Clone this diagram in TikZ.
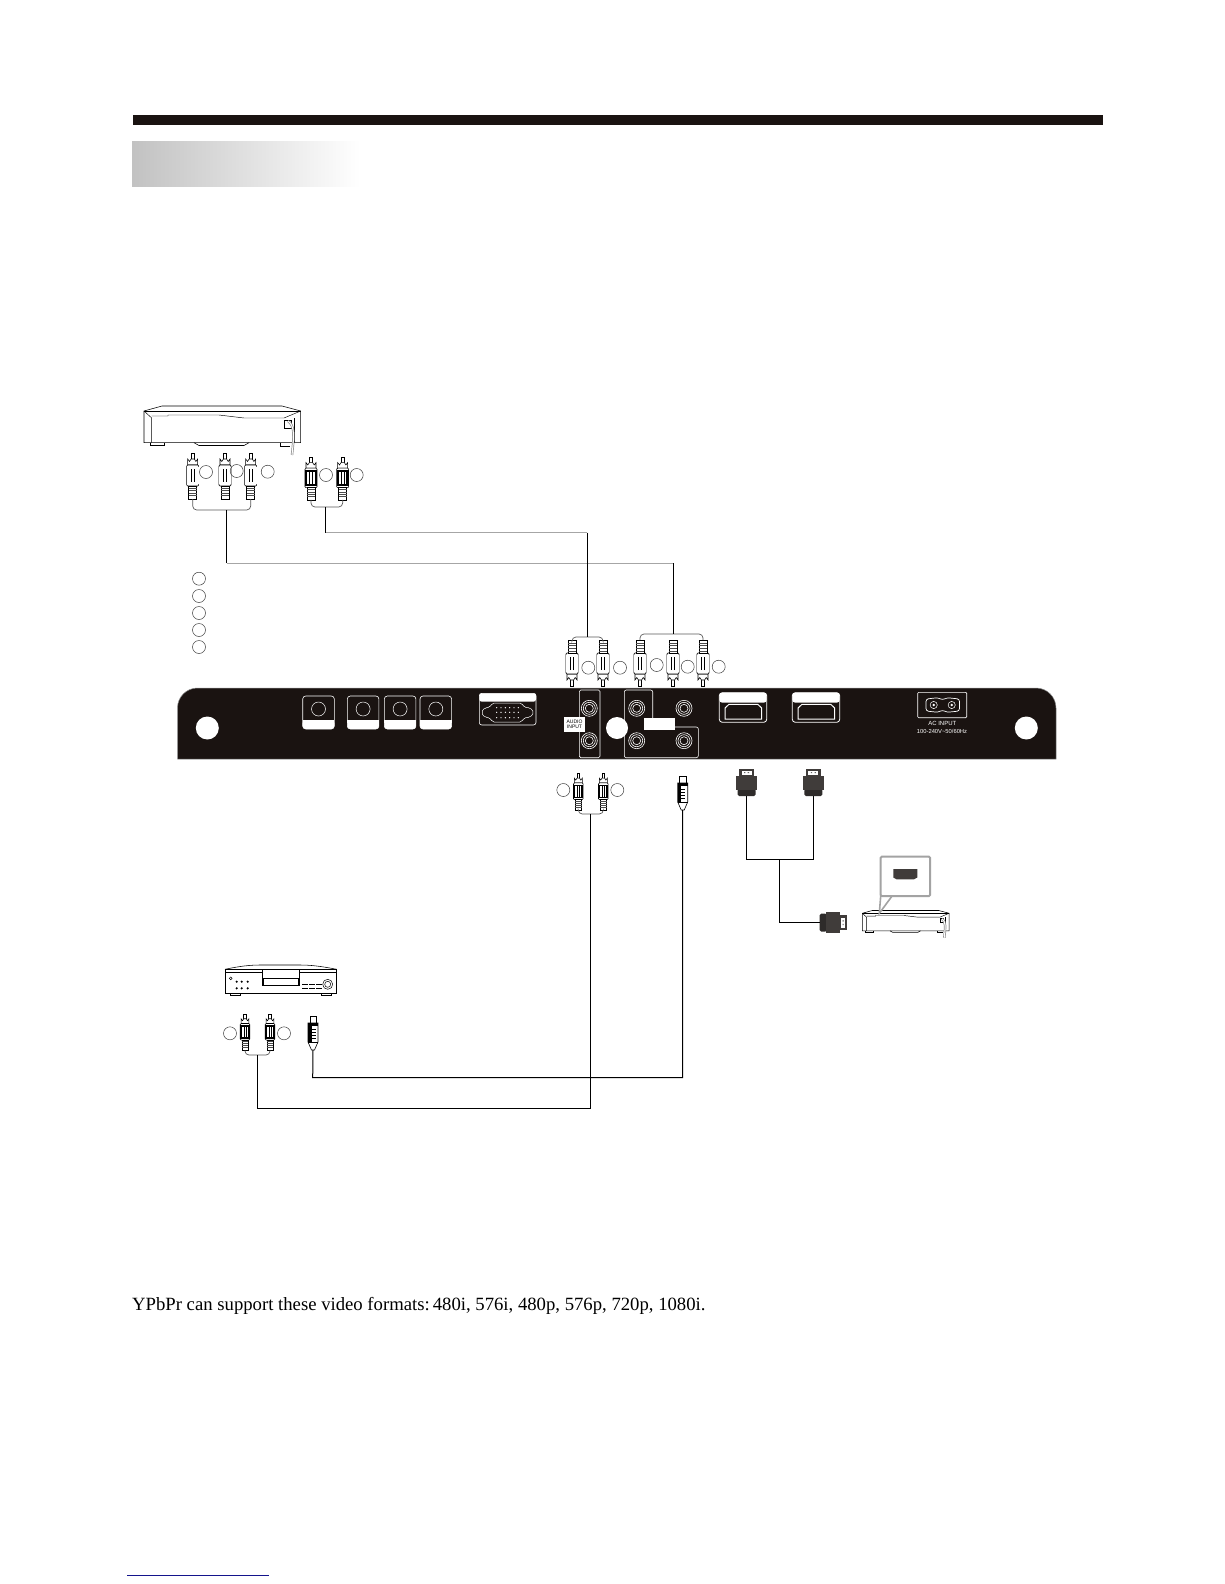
\documentclass[tikz,border=0pt]{standalone}
\usepackage{fontspec}
\setmainfont{Liberation Serif}
\setsansfont{Liberation Sans}
\definecolor{panelblack}{HTML}{1A1311}
\definecolor{plugdark}{HTML}{403C3A}
\definecolor{plugdarker}{HTML}{2E2B2A}
\definecolor{calloutgrey}{HTML}{A3A3A3}
\definecolor{footblue}{HTML}{14148C}
\tikzset{
  wire/.style={line width=1pt,black},
  faintwire/.style={line width=.8pt,black!35},
  plugline/.style={line width=.55pt,black},
  whiteline/.style={line width=.6pt,white},
  tag/.style={circle,draw=black!75,line width=.5pt,minimum size=13pt,inner sep=0pt},
  rca/.pic={
    \draw[plugline,fill=white] (-1.6,0) rectangle (1.6,8);
    \draw[plugline,fill=white] (-5,12) -- (-5,6) -- (-3.2,8.5) -- (-1.6,6) -- (1.6,6) -- (3.2,8.5) -- (5,6) -- (5,12) -- cycle;
    \draw[plugline,fill=white,rounded corners=1pt] (-6,12) rectangle (6,33);
    \fill[#1] (-6,14) rectangle (6,31);
    \fill[white] (-3.6,16) rectangle (3.6,29);
    \draw[line width=.9pt] (-1.3,16) -- (-1.3,29) (1.3,16) -- (1.3,29);
    \draw[plugline,fill=white] (-4,33) -- (-4,46) -- (4,46) -- (4,33) -- cycle;
    \foreach \ry in {35,37.6,40.2,42.8}{\draw[line width=.9pt,black!70] (-4,\ry) -- (4,\ry);}
    \coordinate (-end) at (0,46);
  },
  svideo/.pic={
    \draw[plugline,fill=white] (-3.2,0) rectangle (3.2,7);
    \draw[line width=.6pt,fill=white] (-5,7) -- (-5,26) -- (-1.5,34) -- (1.5,34) -- (5,26) -- (5,7) -- cycle;
    \fill[black] (-5,7) rectangle (-1.5,26);
    \fill[black] (-5,7) rectangle (5,10);
    \foreach \ry in {13,16,19,22}{\draw[line width=.8pt] (-1.5,\ry) -- (2.5,\ry);}
    \draw[line width=.8pt] (-5,26) -- (5,26);
    \coordinate (-end) at (0,34);
  },
  hdmiplug/.pic={
    \fill[plugdark] (-7.5,0) rectangle (7.5,7);
    \fill[white] (-5,2) rectangle (5,5.5);
    \fill[black!60] (-2.5,3) rectangle (-1.2,4.2) (1.2,3) rectangle (2.5,4.2);
    \fill[plugdarker,rounded corners=1.5pt] (-9,20) rectangle (9,27);
    \fill[plugdark] (-10.5,6.7) rectangle (10.5,21);
    \coordinate (-end) at (0,27);
  },
  jack/.pic={
    \fill[panelblack] (0,0) circle (8.5);
    \draw[whiteline] (0,0) circle (8) (0,0) circle (6) (0,0) circle (4);
  },
  smalljack/.pic={
    \draw[whiteline,rounded corners=3pt] (0,0) rectangle (31.6,33);
    \fill[white,rounded corners=3pt] (0,24) rectangle (31.6,33);
    \fill[white] (0,24) rectangle (31.6,27);
    \draw[line width=.5pt,white] (15.8,13) circle (7);
  },
  hdmijack/.pic={
    \draw[whiteline,line width=.8pt,rounded corners=3pt] (0,0) rectangle (47.4,29.6);
    \fill[white,rounded corners=3pt] (0,0) rectangle (47.4,10);
    \draw[line width=1pt,white] (5.7,26.3) -- (5.7,15.3) -- (9.7,11.6) -- (38.4,11.6) -- (42.4,15.3) -- (42.4,26.3) -- cycle;
  },
  player/.pic={
    \draw[line width=.55pt,black,fill=white] (0,5) -- (18,0) -- (138,0) -- (156.7,5) -- (156.7,36.7) -- (0,36.7) -- cycle;
    \draw[line width=.45pt] (0,5) -- (156.7,5);
    \draw[line width=.45pt] (0,5) -- (7.7,12) -- (7.7,36.7);
    \draw[line width=.45pt] (7.7,10) -- (24,10) -- (24,9) -- (75,9) -- (100,12) -- (140,12) -- (156.7,5);
    \draw[line width=.45pt] (150,12) -- (150,36.7);
    \draw[line width=.55pt] (6,36.7) -- (6,39) -- (20,39) -- (20,36.7);
    \draw[line width=.55pt] (50,36.7) -- (55,39.5) -- (100,39.5) -- (105,36.7);
    \draw[line width=.55pt] (136,36.7) -- (136,40) -- (146,40);
    \draw[line width=.7pt,fill=white] (140,14) rectangle (147,22);
    \draw[line width=2.4pt,black!45] (144,15) .. controls (151,20) and (150,30) .. (148,49);
    \draw[line width=1pt,white] (144,15) .. controls (151,20) and (150,30) .. (148,49);
  },
}
\begin{document}
\begin{tikzpicture}[x=1pt,y=-1pt]
\useasboundingbox (0,0) rectangle (1224,1584);
\fill[white] (0,0) rectangle (1224,1584);

% header
\fill[panelblack] (133,115) rectangle (1103,125);
\shade[left color=black!24,right color=white,shading angle=90] (132,141) rectangle (360,186);

% source player, top
\pic (topplayer) at (144,406) {player};

% rear panel
\fill[panelblack,draw=black!45,line width=.5pt] (177.5,759) {[rounded corners=20pt] -- (177.5,688) -- (1056,688)} -- (1056,759) -- cycle;
\fill[white] (207.3,728) circle (11.5) (1026.3,728) circle (11.5) (617,728) circle (11);
\pic at (302.7,696) {smalljack};
\pic at (347.3,696) {smalljack};
\pic at (384.3,696) {smalljack};
\pic at (420,696) {smalljack};
% VGA
\draw[whiteline,rounded corners=2.5pt] (479.3,693.3) rectangle (536,725);
\fill[white,rounded corners=2.5pt] (479.3,693.3) rectangle (536,701.7);
\draw[line width=.5pt,white,rounded corners=2pt] (481,712.5) -- (485,707.5) -- (490,707.5) -- (492,703) -- (522,703) -- (524,707.5) -- (530,707.5) -- (534,712.5) -- (530,717.5) -- (524,717.5) -- (522,722) -- (492,722) -- (490,717.5) -- (485,717.5) -- cycle;
\foreach \ry in {707.7,712.3,717.7}{\foreach \rx in {496.7,501,505.4,509.7,514,518.3}{\fill[white] (\rx,\ry) circle (.7);}}
% audio input
\draw[whiteline,rounded corners=1.5pt] (579.3,690) rectangle (600,757.7);
\pic at (589.3,708.3) {jack};
\pic at (589.3,740.7) {jack};
\node[fill=white,text=black,font=\sffamily\fontsize{5}{5.2}\selectfont,align=center,inner sep=0pt,minimum width=21pt,minimum height=14.4pt] (audiolabel) at (574.5,724.5) {AUDIO\\INPUT};
% component / AV group
\draw[whiteline,rounded corners=2pt] (652.7,719) -- (652.7,690) -- (624.3,690) -- (624.3,757.7) -- (698.3,757.7) -- (698.3,727) -- (675,727);
\pic at (636.7,708.3) {jack};
\pic at (684,708.3) {jack};
\pic at (636.7,740.7) {jack};
\pic at (684,740.7) {jack};
\fill[white] (644,718.3) rectangle (675,730);
% HDMI
\pic at (719.3,692.7) {hdmijack};
\pic at (792.3,692.7) {hdmijack};
% AC
\draw[whiteline,rounded corners=1pt] (917.7,692.3) rectangle (966.7,717.7);
\draw[line width=.7pt,white,rounded corners=2.5pt] (926,705) -- (926,699) -- (938,697.7) -- (942.5,700) -- (947,697.7) -- (959.5,699) -- (959.5,711) -- (947,712.3) -- (942.5,710) -- (938,712.3) -- (926,711) -- cycle;
\draw[line width=.5pt,white] (933.7,705) circle (3.6) (951.7,705) circle (3.6);
\fill[white] (933.7,705) circle (1.3) (951.7,705) circle (1.3);
\node[text=white,font=\sffamily\fontsize{6}{6.5}\selectfont,inner sep=0pt] (acone) at (942.3,723.7) {AC INPUT};
\node[text=white,font=\sffamily\fontsize{5.8}{6.5}\selectfont,inner sep=0pt] (actwo) at (942,731) {100-240V\char`~ 50/60Hz};

% plugs: top source
\pic (a1) at (192.7,453) {rca=white};
\pic (a2) at (225,453) {rca=white};
\pic (a3) at (250.7,453) {rca=white};
\pic[yscale=.93] (b1) at (311,457) {rca=black};
\pic[yscale=.93] (b2) at (342.7,457) {rca=black};
\node[tag] (ta1) at (206,472) {};
\node[tag] (ta2) at (236.7,471) {};
\node[tag] (ta3) at (267.7,471.7) {};
\node[tag] (tb1) at (326,475) {};
\node[tag] (tb2) at (356.7,475) {};
% legend circles
\node[tag] (l1) at (199,578.7) {};
\node[tag] (l2) at (199,596) {};
\node[tag] (l3) at (199,613) {};
\node[tag] (l4) at (199,630) {};
\node[tag] (l5) at (199,647) {};

% plugs: panel top
\pic[yscale=-1] (c1) at (572,686) {rca=white};
\pic[yscale=-1] (c2) at (603,686) {rca=white};
\pic[yscale=-1] (d1) at (640,686) {rca=white};
\pic[yscale=-1] (d2) at (673,686) {rca=white};
\pic[yscale=-1] (d3) at (703,686) {rca=white};
\node[tag] (tc1) at (588.3,667.7) {};
\node[tag] (tc2) at (620,667.7) {};
\node[tag] (td1) at (656.7,665) {};
\node[tag] (td2) at (687.7,666.7) {};
\node[tag] (td3) at (718.7,666.7) {};

% plugs: panel bottom
\pic[scale=.8] (e1) at (578.3,773.3) {rca=black};
\pic[scale=.8] (e2) at (603.3,773.3) {rca=black};
\node[tag] (te1) at (563.3,790) {};
\node[tag] (te2) at (617.3,790) {};
\pic (s1) at (682.7,776) {svideo};
\pic (h1) at (746.5,769) {hdmiplug};
\pic (h2) at (813.3,769) {hdmiplug};
\pic[rotate=-90] (h3) at (846.7,922.7) {hdmiplug};

% small box with callout
\pic[scale=.554] (smallbox) at (862.3,910.5) {player};
\draw[calloutgrey,line width=2pt,rounded corners=1pt,fill=white] (880.7,856.7) rectangle (930,896);
\draw[calloutgrey,line width=1.6pt] (891.7,896.5) -- (879.3,913.3) -- (880.7,896);
\fill[plugdark] (893.3,869) -- (917.3,869) -- (917.3,877.5) -- (914,879.3) -- (896.5,879.3) -- (893.3,877.5) -- cycle;

% lower player
\draw[line width=.55pt,fill=white] (225,969.3) rectangle (336.7,993.3);
\draw[line width=.55pt] (225,969.3) .. controls (245,965) and (255,965) .. (262,965) -- (300,965) .. controls (310,965) and (320,966) .. (336.7,969.3);
\draw[line width=.4pt] (225,972.3) -- (262.3,972.3) (299.3,972.3) -- (336.7,972.3);
\draw[line width=.6pt] (262.3,969.3) rectangle (299.3,985);
\draw[line width=.9pt] (263,978.3) rectangle (298.6,985);
\draw[line width=.6pt] (230,993.3) rectangle (240.7,995.5) (321,993.3) rectangle (331.7,995.5);
\draw[line width=.5pt] (327.7,984.3) circle (5) (327.7,984.3) circle (3) (230.7,978.3) circle (1.4);
\foreach \rx in {236.7,241.7,247.7}{\fill (\rx,981.7) circle (1.2) (\rx,988.3) circle (1.2);}
\foreach \rx in {302,309,316}{\draw[line width=.7pt] (\rx,984.3) -- ++(6,0) (\rx,988.7) -- ++(6,0);}
\pic[scale=.79] (f1) at (245,1014) {rca=black};
\pic[scale=.79] (f2) at (270,1014) {rca=black};
\pic (s2) at (313,1016) {svideo};
\node[tag] (tf1) at (230,1033.3) {};
\node[tag] (tf2) at (284,1033.3) {};

% junction coordinates
\coordinate (ja) at (226.7,510);
\coordinate (jb) at (325.7,507);
\coordinate (jc) at (587,637);
\coordinate (jd) at (673,634);
\coordinate (je) at (590.7,814);
\coordinate (jf) at (257.3,1055);
\coordinate (jh) at (779.3,859.3);
\coordinate (ra) at (226.7,563);
\coordinate (rd) at (673,563);
\coordinate (rb) at (325.7,532.7);
\coordinate (rc) at (587,532.7);
\coordinate (rf) at (257.3,1108.3);
\coordinate (re) at (590.7,1108.3);
\coordinate (rs2) at (312.7,1077.7);
\coordinate (rs1) at (682.7,1077.7);

% connectors
\begin{scope}[line width=.7pt,rounded corners=4pt,black!65]
\draw (a1-end) |- (ja) -| (a3-end);
\draw (b1-end) |- (jb) -| (b2-end);
\draw (c1-end) |- (jc) -| (c2-end);
\draw (d1-end) |- (jd) -| (d3-end);
\draw (e1-end) |- (je) -| (e2-end);
\draw (f1-end) |- (jf) -| (f2-end);
\end{scope}
\draw[wire] (ja) -- (ra);
\draw[faintwire] (ra) -- (rd);
\draw[wire] (rd) -- (jd);
\draw[wire] (jb) -- (rb);
\draw[faintwire] (rb) -- (rc);
\draw[wire] (rc) -- (jc);
\draw[wire] (je) -- (re) -- (rf) -- (jf);
\draw[wire] (s1-end) -- (rs1) -- (rs2) -- (s2-end);
\draw[wire] (h1-end) |- (jh) -| (h2-end);
\draw[wire] (jh) |- (h3-end);

% text
\node[anchor=base west,inner sep=0pt,font=\fontsize{18.7}{20}\selectfont] (caption) at (132,1310) {YPbPr can support these video formats:\kern3pt 480i, 576i, 480p, 576p, 720p, 1080i.};

% footer rule
\draw[footblue,line width=1pt] (127,1575.3) -- (268.7,1575.3);
\end{tikzpicture}
\end{document}
